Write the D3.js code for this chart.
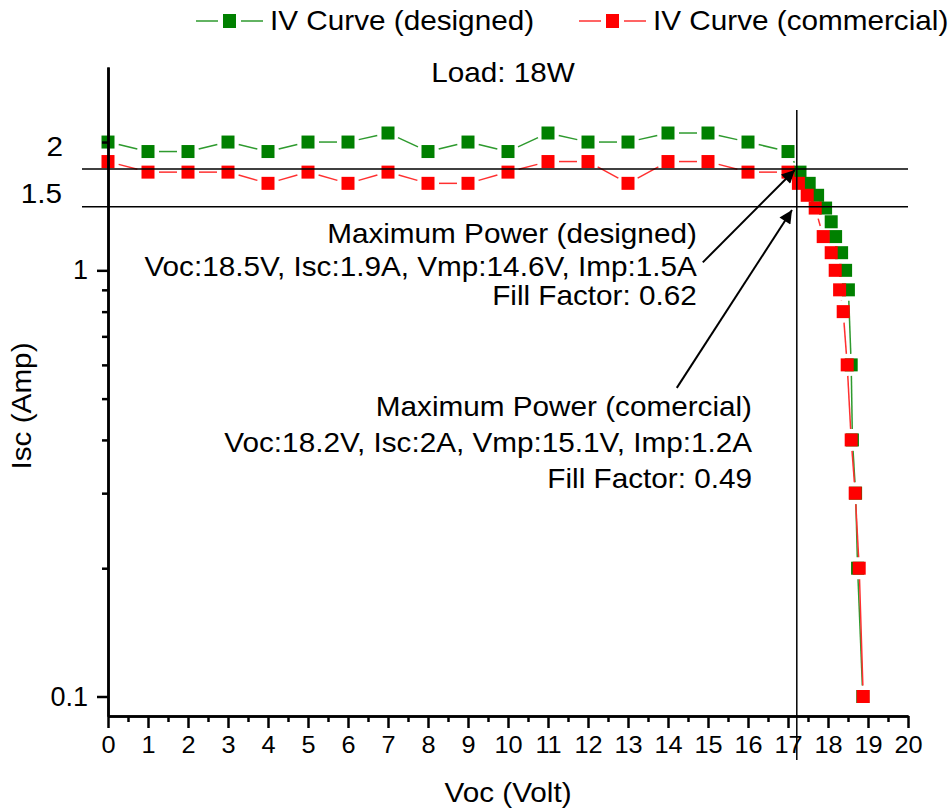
<!DOCTYPE html>
<html>
<head>
<meta charset="utf-8">
<script src="https://cdn.jsdelivr.net/npm/d3@7"></script>
<style>
  body { margin: 0; background: #fff; }
  svg { font-family: "Liberation Sans", Arial, sans-serif; }
</style>
</head>
<body>
<div id="vis"></div>
<script>
// IV curve readings (volts, amps)
const voltsDesigned = [0, 1, 2, 3, 4, 5, 6, 7, 8, 9, 10, 11, 12, 13, 14, 15, 16, 17,
  17.3, 17.53, 17.74, 17.94, 18.08, 18.19, 18.34, 18.44, 18.51, 18.58, 18.61, 18.69, 18.74, 18.87];
const ampsDesigned = [2.0, 1.9, 1.9, 2.0, 1.9, 2.0, 2.0, 2.1, 1.9, 2.0, 1.9, 2.1, 2.0, 2.0, 2.1, 2.1, 2.0, 1.9,
  1.7, 1.6, 1.5, 1.4, 1.3, 1.2, 1.1, 1.0, 0.9, 0.6, 0.4, 0.3, 0.2, 0.1];

const voltsCommercial = [0, 1, 2, 3, 4, 5, 6, 7, 8, 9, 10, 11, 12, 13, 14, 15, 16, 17,
  17.26, 17.48, 17.68, 17.88, 18.08, 18.18, 18.29, 18.38, 18.48, 18.58, 18.68, 18.78, 18.88];
const ampsCommercial = [1.8, 1.7, 1.7, 1.7, 1.6, 1.7, 1.6, 1.7, 1.6, 1.6, 1.7, 1.8, 1.8, 1.6, 1.8, 1.8, 1.7, 1.7,
  1.6, 1.5, 1.4, 1.2, 1.1, 1.0, 0.9, 0.8, 0.6, 0.4, 0.3, 0.2, 0.1];

const seriesNames = ["IV Curve (designed)", "IV Curve (commercial)"];
const seriesColors = ["#008000", "#ff0000"];
const lineColors = ["#2e9a2e", "#ff3030"];

const xTicks = d3.range(0, 21);
const xMinorTicks = d3.range(0.5, 20, 1);
const yTicks = [0.1, 1];
const yMinorTicks = [0.2, 0.3, 0.4, 0.5, 0.6, 0.7, 0.8, 0.9, 2];

// reference lines: max power point guides
const refVolt = 17.22;
const refAmps = [1.73, 1.41];

const annotations = [
  { lines: ["Maximum Power (designed)", "Voc:18.5V, Isc:1.9A, Vmp:14.6V, Imp:1.5A", "Fill Factor: 0.62"],
    x: 14.72, y: [1.22, 1.022, 0.874], arrow: [[14.87, 1.044], [17.17, 1.72]] },
  { lines: ["Maximum Power (comercial)", "Voc:18.2V, Isc:2A, Vmp:15.1V, Imp:1.2A", "Fill Factor: 0.49"],
    x: 16.1, y: [0.48, 0.395, 0.325], arrow: [[14.22, 0.53], [17.1, 1.385]] }
];

const width = 952, height = 811;
const stretch = 1.1; // the source font is drawn a little wide
const svg = d3.select("#vis").append("svg")
  .attr("width", width)
  .attr("height", height);

const x = d3.scaleLinear().domain([0, 20]).range([108, 908]);
const y = d3.scaleLog().domain([0.09, 3]).range([716, 67]);

function label(px, py, str, size, anchor, rot) {
  return svg.append("text")
    .attr("transform", `translate(${px},${py})${rot ? ` rotate(${rot})` : ""} scale(${stretch},1)`)
    .attr("text-anchor", anchor)
    .attr("dy", "0.35em")
    .attr("font-size", size)
    .text(str);
}

// series
const series = [
  voltsDesigned.map((v, i) => [v, ampsDesigned[i]]),
  voltsCommercial.map((v, i) => [v, ampsCommercial[i]])
];

const gap = 11; // gap between line and symbol
series.forEach((pts, s) => {
  const g = svg.append("g");
  for (let i = 0; i < pts.length - 1; i++) {
    const x0 = x(pts[i][0]), y0 = y(pts[i][1]);
    const x1 = x(pts[i + 1][0]), y1 = y(pts[i + 1][1]);
    const len = Math.hypot(x1 - x0, y1 - y0);
    if (len <= gap * 2) continue;
    const ux = (x1 - x0) / len, uy = (y1 - y0) / len;
    g.append("line")
      .attr("x1", x0 + ux * gap).attr("y1", y0 + uy * gap)
      .attr("x2", x1 - ux * gap).attr("y2", y1 - uy * gap)
      .attr("stroke", lineColors[s])
      .attr("stroke-width", 1.5);
  }
  g.selectAll("rect")
    .data(pts)
    .join("rect")
    .attr("x", d => x(d[0]) - 6.5)
    .attr("y", d => y(d[1]) - 6.5)
    .attr("width", 13)
    .attr("height", 13)
    .attr("fill", seriesColors[s]);
});

// axes
const axisStyle = g => {
  g.selectAll(".domain").attr("stroke", "#000").attr("stroke-width", 2.5);
  g.selectAll(".tick line").attr("stroke", "#000").attr("stroke-width", 2.5);
  g.selectAll("text").attr("fill", "#000");
};

svg.append("g")
  .attr("transform", "translate(0,716)")
  .call(d3.axisBottom(x).tickValues(xMinorTicks).tickSize(6).tickSizeOuter(0).tickFormat(""))
  .call(axisStyle);

const xAxis = svg.append("g")
  .attr("transform", "translate(0,716)")
  .call(d3.axisBottom(x).tickValues(xTicks).tickSize(12).tickPadding(9).tickSizeOuter(0).tickFormat(d3.format("d")))
  .call(axisStyle);
xAxis.selectAll("text")
  .attr("font-size", 23)
  .attr("transform", `scale(${stretch},1)`)
  .attr("x", d => 0);

svg.append("g")
  .attr("transform", "translate(108,0)")
  .call(d3.axisLeft(y).tickValues(yMinorTicks).tickSize(6).tickSizeOuter(0).tickFormat(""))
  .call(axisStyle);

svg.append("g")
  .attr("transform", "translate(108,0)")
  .call(d3.axisLeft(y).tickValues(yTicks).tickSize(11).tickPadding(9).tickSizeOuter(0).tickFormat(d => String(d)))
  .call(axisStyle)
  .selectAll("text").attr("font-size", 27);

// extra y labels typed next to the axis
label(63, y(2) + 5, "2", 27, "end");
label(62, y(1.5) - 2, "1.5", 27, "end");

// reference lines
refAmps.forEach(a => {
  svg.append("line")
    .attr("x1", 82).attr("x2", x(20))
    .attr("y1", y(a)).attr("y2", y(a))
    .attr("stroke", "#000").attr("stroke-width", 1.5);
});
svg.append("line")
  .attr("x1", x(refVolt)).attr("x2", x(refVolt))
  .attr("y1", 110).attr("y2", 760)
  .attr("stroke", "#000").attr("stroke-width", 1.5);

// annotations + arrows
svg.append("defs").append("marker")
  .attr("id", "arrow")
  .attr("viewBox", "0 0 10 10")
  .attr("refX", 10).attr("refY", 5)
  .attr("markerWidth", 18).attr("markerHeight", 13)
  .attr("markerUnits", "userSpaceOnUse")
  .attr("orient", "auto")
  .append("path")
  .attr("d", "M0,0 L10,5 L0,10 Z")
  .attr("fill", "#000");

annotations.forEach(a => {
  a.lines.forEach((t, i) => label(x(a.x), y(a.y[i]), t, 27, "end"));
  svg.append("line")
    .attr("x1", x(a.arrow[0][0])).attr("y1", y(a.arrow[0][1]))
    .attr("x2", x(a.arrow[1][0])).attr("y2", y(a.arrow[1][1]))
    .attr("stroke", "#000").attr("stroke-width", 2)
    .attr("marker-end", "url(#arrow)");
});

// title and axis labels
label(503, 73, "Load: 18W", 27, "middle");
label(508, 793, "Voc (Volt)", 27, "middle");
label(22, 406, "Isc (Amp)", 27, "middle", -90);

// legend
const legendX = [196, 579];
seriesNames.forEach((name, i) => {
  const g = svg.append("g").attr("transform", `translate(${legendX[i]},21)`);
  g.append("line").attr("x1", 0).attr("x2", 22).attr("stroke", lineColors[i]).attr("stroke-width", 1.5);
  g.append("line").attr("x1", 45).attr("x2", 67).attr("stroke", lineColors[i]).attr("stroke-width", 1.5);
  g.append("rect").attr("x", 27).attr("y", -7).attr("width", 13).attr("height", 14).attr("fill", seriesColors[i]);
  label(legendX[i] + 74, 21, name, 27, "start");
});
</script>
</body>
</html>
